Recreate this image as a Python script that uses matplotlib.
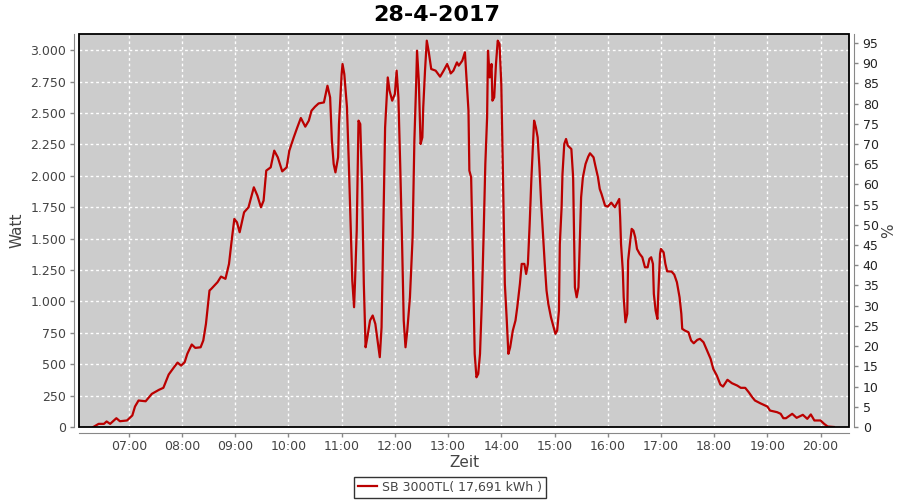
import matplotlib
matplotlib.use("Agg")
import matplotlib.pyplot as plt
from matplotlib.ticker import FuncFormatter
from matplotlib.patches import Rectangle

title = "28-4-2017"
series_name = "SB 3000TL( 17,691 kWh )"

times = ["06:20","06:26","06:32","06:35","06:39","06:46","06:50","06:58","07:04","07:07",
         "07:11","07:19","07:26","07:34","07:39","07:45","07:51","07:55","07:59","08:03",
         "08:06","08:11","08:15","08:21","08:24","08:27","08:31","08:33","08:40","08:44",
         "08:49","08:53","08:56","08:59","09:02","09:05","09:10","09:15","09:21","09:25",
         "09:29","09:32","09:35","09:40","09:44","09:48","09:53","09:58","10:01","10:06",
         "10:10","10:14","10:19","10:23","10:26","10:30","10:34","10:40","10:44","10:47",
         "10:49","10:51","10:53","10:56","10:57","11:00","11:01","11:03","11:06","11:08",
         "11:10","11:12","11:14","11:15","11:17","11:19","11:21","11:23","11:25","11:27",
         "11:29","11:32","11:35","11:38","11:41","11:43","11:45","11:47","11:49","11:52",
         "11:54","11:57","12:00","12:02","12:04","12:06","12:08","12:10","12:12","12:14",
         "12:17","12:20","12:22","12:24","12:25","12:27","12:29","12:31","12:32","12:34",
         "12:36","12:38","12:41","12:46","12:51","12:55","12:59","13:03","13:06","13:10",
         "13:12","13:16","13:19","13:21","13:23","13:24","13:26","13:28","13:30","13:32",
         "13:34","13:36","13:38","13:40","13:42","13:44","13:45","13:47","13:49","13:50",
         "13:52","13:54","13:56","13:58","14:00","14:02","14:04","14:06","14:08","14:10",
         "14:13","14:16","14:18","14:21","14:23","14:26","14:28","14:30","14:32","14:34",
         "14:36","14:37","14:39","14:41","14:43","14:45","14:47","14:49","14:51","14:53",
         "14:56","14:58","15:01","15:03","15:05","15:06","15:08","15:09","15:11","15:13",
         "15:15","15:19","15:21","15:22","15:23","15:25","15:27","15:28","15:30","15:32",
         "15:35","15:38","15:40","15:44","15:46","15:49","15:51","15:53","15:57","16:00",
         "16:04","16:08","16:11","16:13","16:14","16:15","16:17","16:18","16:20","16:22",
         "16:23","16:25","16:27","16:29","16:31","16:33","16:36","16:39","16:42","16:45",
         "16:47","16:49","16:51","16:52","16:54","16:56","16:57","16:59","17:00","17:03",
         "17:05","17:07","17:12","17:15","17:18","17:21","17:23","17:24","17:27","17:31",
         "17:34","17:37","17:41","17:44","17:48","17:52","17:56","17:59","18:03","18:07",
         "18:10","18:15","18:20","18:26","18:30","18:35","18:39","18:43","18:46","18:52",
         "19:00","19:03","19:11","19:15","19:18","19:21","19:28","19:33","19:40","19:45",
         "19:49","19:53","20:00","20:04","20:08","20:15"]

watt = [0,25,25,44,25,70,46,52,92,163,
        211,205,264,296,312,418,476,513,489,516,
        583,657,630,635,689,821,1087,1100,1153,1198,
        1180,1299,1485,1657,1630,1551,1710,1750,1909,1843,
        1750,1803,2042,2068,2201,2148,2036,2068,2201,2307,
        2386,2461,2392,2440,2519,2551,2577,2585,2718,2625,
        2281,2095,2028,2148,2413,2811,2891,2811,2546,2121,
        1644,1166,954,1140,1564,2440,2413,1936,1140,635,
        715,848,888,821,662,556,794,1590,2386,2784,
        2679,2599,2652,2838,2625,2095,1511,848,635,768,
        1033,1511,2281,2732,2997,2758,2254,2307,2546,2838,
        3077,2997,2851,2838,2790,2838,2891,2816,2838,2904,
        2878,2917,2984,2758,2519,2042,1989,1325,583,396,
        423,583,981,1511,2095,2466,2997,2784,2891,2599,
        2625,2891,3077,3050,2732,1962,1140,874,583,635,
        768,848,954,1140,1299,1299,1219,1299,1617,1989,
        2281,2440,2386,2307,2068,1777,1538,1299,1087,981,
        874,821,742,768,927,1458,1750,2015,2254,2294,
        2241,2214,1989,1538,1113,1033,1113,1352,1829,1989,
        2095,2153,2180,2148,2082,1989,1896,1856,1763,1755,
        1787,1750,1790,1816,1670,1458,1246,1033,834,901,
        1325,1458,1578,1564,1511,1418,1379,1352,1272,1272,
        1339,1352,1299,1060,927,861,1060,1379,1418,1391,
        1299,1240,1238,1214,1153,1033,901,782,768,755,
        689,667,694,702,675,609,543,463,410,338,
        322,376,349,330,312,312,277,237,211,189,
        163,131,118,105,70,70,105,73,97,65,
        100,52,52,25,4,0]

hour_ticks = list(range(7, 21))
hour_labels = [f"{h:02d}:00" for h in hour_ticks]
watt_ticks = list(range(0, 3001, 250))
pct_ticks = list(range(0, 96, 5))


def to_hours(t):
    h, m = t.split(":")
    return int(h) + int(m) / 60.0


x = [to_hours(t) for t in times]

fig = plt.figure(figsize=(9, 5), dpi=100)
ax = fig.add_axes([0.0881, 0.146, 0.855, 0.786])
ax.set_facecolor("#cccccc")

line, = ax.plot(x, watt, color="#bb0000", linewidth=1.6, label=series_name, zorder=3)

ax.set_xlim(6.07, 20.53)
ax.set_ylim(0, 3130)
ax.set_xticks(hour_ticks)
ax.set_xticklabels(hour_labels)
ax.set_yticks(watt_ticks)
ax.yaxis.set_major_formatter(FuncFormatter(lambda v, p: f"{int(round(v)):,}".replace(",", ".")))

ax.grid(True, color="white", linestyle=(0, (2, 2)), linewidth=1.0, zorder=1)
ax.set_axisbelow(True)

gray = "#888888"
txt = "#444444"
for side in ["left", "bottom"]:
    ax.spines[side].set_position(("outward", 4))
    ax.spines[side].set_color(gray)
ax.spines["top"].set_visible(False)
ax.spines["right"].set_visible(False)
ax.tick_params(axis="both", direction="out", length=3, width=1, color=gray,
               labelsize=9, labelcolor=txt, pad=2.5)

ax.add_patch(Rectangle((0, 0), 1, 1, transform=ax.transAxes, fill=False,
                       edgecolor="black", linewidth=1.3, clip_on=False, zorder=5))

ax2 = ax.twinx()
ax2.set_ylim(0, 97.2)
ax2.set_yticks(pct_ticks)
for side in ["left", "bottom", "top"]:
    ax2.spines[side].set_visible(False)
ax2.spines["right"].set_position(("outward", 4))
ax2.spines["right"].set_color(gray)
ax2.tick_params(axis="y", direction="out", length=3, width=1, color=gray,
                labelsize=9, labelcolor="#222222", pad=3)
ax2.set_ylabel("%", fontsize=11, color=txt, labelpad=2)

ax.set_ylabel("Watt", fontsize=11, color=txt, labelpad=4)
ax.set_xlabel("Zeit", fontsize=11, color=txt, labelpad=1)

fig.suptitle(title, fontsize=16, fontweight="bold", y=0.99, x=0.485)

leg = fig.legend(handles=[line], loc="lower center", bbox_to_anchor=(0.5, 0.0),
                 ncol=1, fontsize=9, frameon=True, fancybox=False,
                 handlelength=1.5, handletextpad=0.4, borderpad=0.3,
                 borderaxespad=0.2)
leg.get_frame().set_edgecolor("black")
leg.get_frame().set_linewidth(1.0)
for t in leg.get_texts():
    t.set_color(txt)

fig.savefig("out.png", dpi=100)
